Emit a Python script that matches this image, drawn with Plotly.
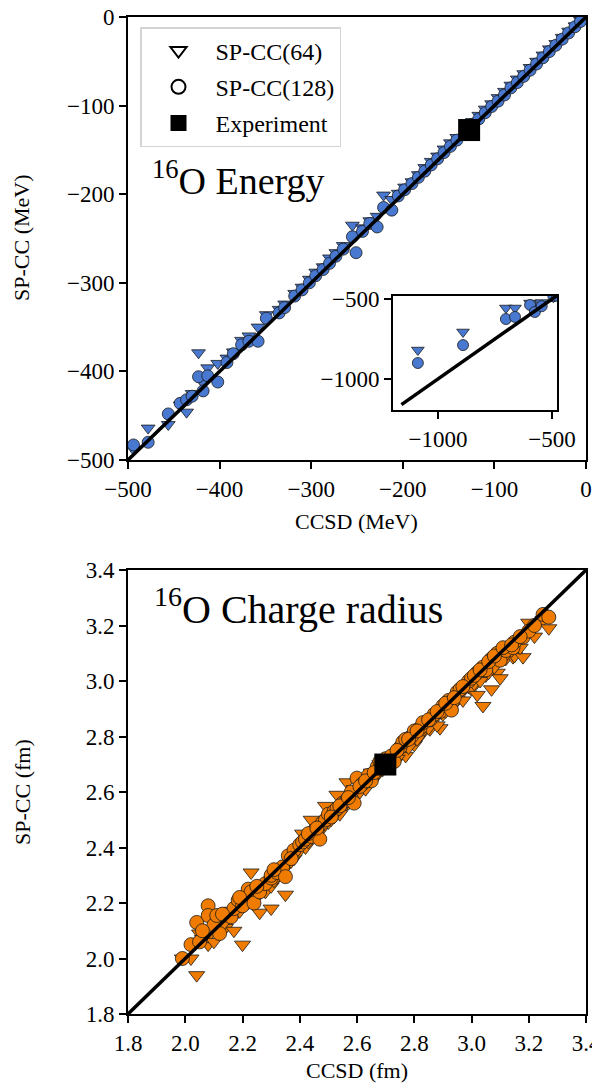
import plotly.graph_objects as go

# ---- 16O energy (MeV): CCSD vs SP-CC ----
ccsd_energy = [-1088, -890, -702, -662, -596, -575, -545,
               -494, -478, -456, -443, -436, -430, -423, -418, -413, -402,
               -392, -385, -376, -368, -358, -349, -335, -329, -318, -310,
               -302, -295, -287, -280, -273, -265, -255, -251, -244, -236,
               -228, -221, -212, -205, -198, -190, -183, -176, -169, -162,
               -155, -148, -141, -130, -124, -117, -110, -103, -96, -89,
               -82, -75, -68, -61, -54, -47, -40, -33, -26, -19, -12, -6]
spcc64_energy = [-819, -706, -556, -556, -525, -540, -522,
                 -488, -464, -460, -438, -446, -425, -379, -413, -396, -391,
                 -385, -378, -365, -360, -350, -336, -330, -324, -312, -305,
                 -296, -288, -282, -272, -266, -258, -235, -246, -238, -230,
                 -225, -201, -206, -199, -192, -186, -178, -170, -163, -157,
                 -149, -142, -136, -124, -118, -111, -104, -98, -91, -84,
                 -77, -70, -64, -57, -50, -43, -36, -30, -23, -16, -10, -4]
spcc128_energy = [-900, -788, -625, -612, -537, -581, -545,
                  -483, -480, -448, -436, -432, -428, -406, -422, -405, -412,
                  -390, -380, -370, -366, -366, -340, -334, -328, -315, -308,
                  -300, -292, -285, -278, -270, -262, -248, -266, -242, -233,
                  -237, -215, -218, -202, -195, -188, -181, -174, -167, -160,
                  -153, -146, -139, -128, -121, -115, -108, -101, -95, -88,
                  -80, -74, -67, -60, -53, -46, -39, -32, -25, -18, -11, -5]
exp_energy = [-127.6]
energy_line = [-1160, 0]

# ---- 16O charge radius (fm) ----
ccsd_radius = [1.99, 2.02, 2.04, 2.05, 2.08, 2.08, 2.10, 2.11, 2.12, 2.14,
               2.16, 2.17, 2.185, 2.20, 2.22, 2.23, 2.24, 2.26, 2.28, 2.30,
               2.30, 2.32, 2.34, 2.35, 2.36, 2.38, 2.40, 2.41, 2.42, 2.44,
               2.45, 2.47, 2.48, 2.49, 2.50, 2.52, 2.53, 2.55, 2.565, 2.58,
               2.59, 2.60, 2.62, 2.64, 2.65, 2.67, 2.68, 2.70, 2.72, 2.73,
               2.75, 2.76, 2.77, 2.79, 2.80, 2.82, 2.83, 2.855, 2.87, 2.89,
               2.90, 2.92, 2.93, 2.95, 2.96, 2.99, 3.00, 3.02, 3.04, 3.05,
               3.07, 3.09, 3.10, 3.12, 3.145, 3.15, 3.18, 3.20, 3.25, 3.27,
               2.06, 2.13, 2.19, 2.25, 2.31, 2.37, 2.43, 2.46, 2.51, 2.54,
               2.57, 2.61, 2.63, 2.66, 2.69, 2.74, 2.78, 2.81, 2.85, 2.88,
               2.91, 2.94, 2.97, 3.01, 3.03, 3.06, 3.08, 3.11, 3.14, 3.17,
               3.22]
spcc64_radius = [2.00, 2.00, 1.94, 2.09, 2.05, 2.08, 2.06, 2.10, 2.13, 2.11,
                 2.15, 2.10, 2.17, 2.05, 2.20, 2.31, 2.21, 2.165, 2.24, 2.18,
                 2.26, 2.29, 2.30, 2.23, 2.34, 2.36, 2.39, 2.45, 2.40, 2.50,
                 2.44, 2.46, 2.47, 2.55, 2.49, 2.51, 2.59, 2.54, 2.635, 2.57,
                 2.61, 2.59, 2.62, 2.63, 2.67, 2.66, 2.70, 2.71, 2.69, 2.72,
                 2.73, 2.75, 2.73, 2.78, 2.77, 2.80, 2.82, 2.826, 2.86, 2.83,
                 2.88, 2.90, 2.92, 2.93, 2.95, 2.978, 2.97, 2.95, 2.91, 3.02,
                 2.97, 3.03, 3.01, 3.08, 3.086, 3.09, 3.086, 3.21, 3.22, 3.19,
                 2.07, 2.12, 2.17, 2.22, 2.28, 2.35, 2.42, 2.45, 2.50, 2.52,
                 2.56, 2.60, 2.61, 2.65, 2.68, 2.72, 2.76, 2.79, 2.83, 2.84,
                 2.89, 2.92, 2.93, 2.99, 3.00, 3.03, 3.05, 3.08, 3.11, 3.12,
                 3.16]
spcc128_radius = [2.00, 2.05, 2.13, 2.06, 2.19, 2.155, 2.12, 2.155, 2.09, 2.16,
                  2.15, 2.18, 2.21, 2.19, 2.25, 2.24, 2.20, 2.24, 2.27, 2.29,
                  2.30, 2.31, 2.33, 2.295, 2.37, 2.39, 2.41, 2.42, 2.43, 2.44,
                  2.46, 2.43, 2.49, 2.50, 2.52, 2.53, 2.54, 2.56, 2.57, 2.60,
                  2.56, 2.65, 2.63, 2.66, 2.64, 2.69, 2.71, 2.72, 2.73, 2.71,
                  2.76, 2.78, 2.79, 2.80, 2.82, 2.83, 2.85, 2.86, 2.88, 2.89,
                  2.91, 2.93, 2.895, 2.96, 2.97, 3.00, 3.01, 3.03, 3.05, 3.04,
                  3.08, 3.10, 3.075, 3.11, 3.12, 3.14, 3.158, 3.18, 3.24, 3.23,
                  2.10, 2.16, 2.22, 2.26, 2.32, 2.36, 2.45, 2.47, 2.51, 2.55,
                  2.58, 2.62, 2.64, 2.67, 2.70, 2.75, 2.79, 2.82, 2.86, 2.89,
                  2.92, 2.94, 2.98, 3.02, 3.04, 3.07, 3.09, 3.12, 3.13, 3.16,
                  3.20]
exp_radius = [2.699]
radius_line = [1.8, 3.4]

energy_ticks = [-500, -400, -300, -200, -100, 0]
inset_ticks = [-1000, -500]
radius_ticks = [1.8, 2.0, 2.2, 2.4, 2.6, 2.8, 3.0, 3.2, 3.4]

BLUE = "#4878d0"
ORANGE = "#ef7b00"
FONT = "Liberation Serif"

# the page body has an 8px margin, so the figure is drawn 8px in from the
# window corner; positions below are given in window pixels
OFF = 8
W, H = 600 - OFF, 1084 - OFF


def px(x):
    return (x - OFF) / W


def py(y):
    return 1 - (y - OFF) / H


fig = go.Figure()


def add_panel(xs, y64, y128, exp, line, color, xa, ya, size):
    edge = dict(color="#1a1a1a", width=0.8)
    fig.add_trace(go.Scatter(x=xs, y=y64, mode="markers", xaxis=xa, yaxis=ya,
                             showlegend=False,
                             marker=dict(symbol="triangle-down", size=size,
                                         color=color, line=edge)))
    fig.add_trace(go.Scatter(x=xs, y=y128, mode="markers", xaxis=xa, yaxis=ya,
                             showlegend=False,
                             marker=dict(symbol="circle", size=size,
                                         color=color, line=edge)))
    fig.add_trace(go.Scatter(x=line, y=line, mode="lines", xaxis=xa, yaxis=ya,
                             showlegend=False,
                             line=dict(color="black", width=3.5)))
    if exp:
        fig.add_trace(go.Scatter(x=exp, y=exp, mode="markers", xaxis=xa,
                                 yaxis=ya, showlegend=False,
                                 marker=dict(symbol="square", size=22,
                                             color="black")))


add_panel(ccsd_energy, spcc64_energy, spcc128_energy, exp_energy,
          energy_line, BLUE, "x", "y", 12)
add_panel(ccsd_energy, spcc64_energy, spcc128_energy, None,
          energy_line, BLUE, "x2", "y2", 11)
add_panel(ccsd_radius, spcc64_radius, spcc128_radius, exp_radius,
          radius_line, ORANGE, "x3", "y3", 14)

# legend-only entries (black outlines, as in the reference legend)
legend_items = [("SP-CC(64)", "triangle-down-open"),
                ("SP-CC(128)", "circle-open"),
                ("Experiment", "square")]
for i, (name, sym) in enumerate(legend_items):
    fig.add_trace(go.Scatter(x=[None], y=[None], mode="markers", name=name,
                             legendgroup=f"g{i}",
                             marker=dict(symbol=sym, size=14, color="black",
                                         line=dict(width=2, color="black"))))

axis_common = dict(showline=True, linecolor="black", linewidth=1.8,
                   mirror=True, ticks="outside", ticklen=7, tickwidth=1.6,
                   tickcolor="black", showgrid=False, zeroline=False,
                   automargin=False, ticklabeloverflow="allow",
                   tickfont=dict(family=FONT, size=23, color="black"))


def label(text, x, y, angle=0, size=22):
    return dict(text=text, xref="paper", yref="paper", x=px(x), y=py(y),
                xanchor="center", yanchor="middle", textangle=angle,
                showarrow=False, font=dict(family=FONT, size=size,
                                           color="black"))


fig.update_layout(
    width=W, height=H, plot_bgcolor="white", paper_bgcolor="white",
    margin=dict(l=0, r=0, t=0, b=0, autoexpand=False),
    font=dict(family=FONT, color="black"),
    xaxis=dict(domain=[px(128), px(586)], range=[-500, 0],
               tickvals=energy_ticks, anchor="y", **axis_common),
    yaxis=dict(domain=[py(460), py(17)], range=[-500, 0],
               tickvals=energy_ticks, anchor="x", **axis_common),
    xaxis2=dict(domain=[px(393), px(557)], range=[-1197, -478],
                tickvals=inset_ticks, anchor="y2", **axis_common),
    yaxis2=dict(domain=[py(410), py(296)], range=[-1194, -481],
                tickvals=inset_ticks, anchor="x2", **axis_common),
    xaxis3=dict(domain=[px(128), px(586)], range=[1.8, 3.4],
                tickvals=radius_ticks, tickformat=".1f",
                anchor="y3", **axis_common),
    yaxis3=dict(domain=[py(1014), py(570)], range=[1.8, 3.4],
                tickvals=radius_ticks, tickformat=".1f",
                anchor="x3", **axis_common),
    legend=dict(x=px(140), y=py(27), xanchor="left", yanchor="top",
                bgcolor="white", bordercolor="#d4d4d4", borderwidth=1.5,
                font=dict(family=FONT, size=24, color="black"),
                traceorder="grouped", tracegroupgap=2, itemwidth=64),
    annotations=[
        label("SP-CC (MeV)", 22, 238, angle=-90),
        label("CCSD (MeV)", 357, 521),
        label("SP-CC (fm)", 22, 792, angle=-90),
        label("CCSD (fm)", 357, 1070),
        dict(text="<sup>16</sup>O Energy", xref="paper", yref="paper",
             x=px(150), y=py(178), xanchor="left", yanchor="middle",
             showarrow=False, font=dict(family=FONT, size=38, color="black")),
        dict(text="<sup>16</sup>O Charge radius", xref="paper", yref="paper",
             x=px(152), y=py(606), xanchor="left", yanchor="middle",
             showarrow=False, font=dict(family=FONT, size=40, color="black")),
    ],
)

fig.write_html("out.html")
